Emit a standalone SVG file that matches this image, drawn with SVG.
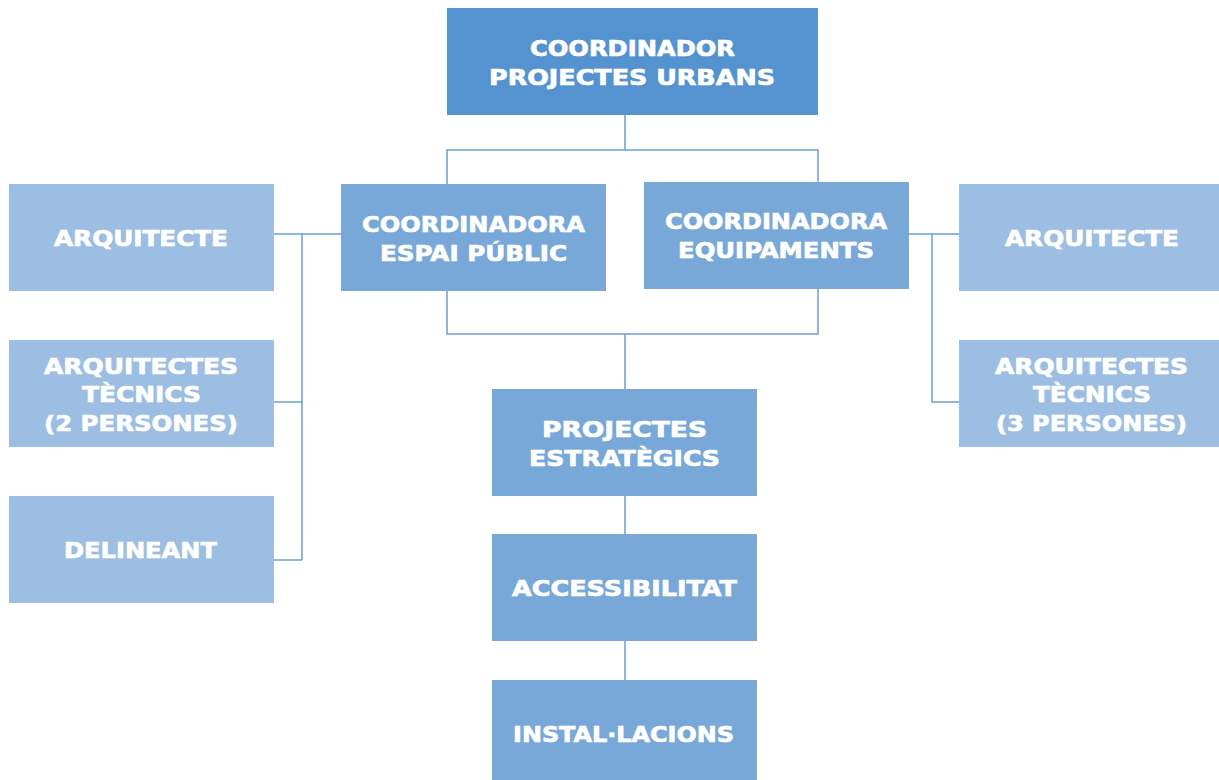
<svg xmlns="http://www.w3.org/2000/svg" width="1219" height="780" viewBox="0 0 1219 780">
<style>
.top{fill:#5593d0}
.mid{fill:#78a8d8}
.lt{fill:#9bbee2}
text{font-family:"DejaVu Sans","Liberation Sans",sans-serif;font-weight:bold;font-size:22px;fill:#ffffff;stroke:#ffffff;stroke-width:0.7;text-anchor:middle}
.c path{stroke:#6a9fd6;stroke-width:1.5;fill:none}
</style>
<rect width="1219" height="780" fill="#ffffff"/>
<g class="c" id="connectors">
<path d="M625 115V150M447 184V150H818V182"/>
<path d="M274 234H341M302 234V560M274 402H302M274 560H302"/>
<path d="M909 234H959M932 234V402H959"/>
<path d="M447 291V334H818V289M625 334V389"/>
<path d="M625 496V534M625 641V680"/>
</g>
<g id="n-top"><rect class="top" x="447" y="8" width="371" height="107"/>
<text x="632.5" y="56" textLength="205" lengthAdjust="spacingAndGlyphs">COORDINADOR</text>
<text x="632" y="85" textLength="286" lengthAdjust="spacingAndGlyphs">PROJECTES URBANS</text></g>
<g id="n-espai"><rect class="mid" x="341" y="184" width="265" height="107"/>
<text x="473.5" y="232" textLength="223" lengthAdjust="spacingAndGlyphs">COORDINADORA</text>
<text x="473.5" y="261" textLength="187" lengthAdjust="spacingAndGlyphs">ESPAI PÚBLIC</text></g>
<g id="n-equip"><rect class="mid" x="644" y="182" width="265" height="107"/>
<text x="776" y="229" textLength="222" lengthAdjust="spacingAndGlyphs">COORDINADORA</text>
<text x="776" y="258" textLength="196" lengthAdjust="spacingAndGlyphs">EQUIPAMENTS</text></g>
<g id="n-arq-l"><rect class="lt" x="9" y="184" width="265" height="107"/>
<text x="141" y="246" textLength="174" lengthAdjust="spacingAndGlyphs">ARQUITECTE</text></g>
<g id="n-tec-l"><rect class="lt" x="9" y="340" width="265" height="107"/>
<text x="141" y="374" textLength="194" lengthAdjust="spacingAndGlyphs">ARQUITECTES</text>
<text x="141.5" y="402" textLength="119" lengthAdjust="spacingAndGlyphs">TÈCNICS</text>
<text x="141" y="431" textLength="194" lengthAdjust="spacingAndGlyphs">(2 PERSONES)</text></g>
<g id="n-del"><rect class="lt" x="9" y="496" width="265" height="107"/>
<text x="140.5" y="558" textLength="153" lengthAdjust="spacingAndGlyphs">DELINEANT</text></g>
<g id="n-arq-r"><rect class="lt" x="959" y="184" width="260" height="107"/>
<text x="1092" y="246" textLength="174" lengthAdjust="spacingAndGlyphs">ARQUITECTE</text></g>
<g id="n-tec-r"><rect class="lt" x="959" y="340" width="260" height="107"/>
<text x="1091.5" y="374" textLength="193" lengthAdjust="spacingAndGlyphs">ARQUITECTES</text>
<text x="1092" y="402" textLength="118" lengthAdjust="spacingAndGlyphs">TÈCNICS</text>
<text x="1091.5" y="431" textLength="191" lengthAdjust="spacingAndGlyphs">(3 PERSONES)</text></g>
<g id="n-proj"><rect class="mid" x="492" y="389" width="265" height="107"/>
<text x="624.5" y="437" textLength="165" lengthAdjust="spacingAndGlyphs">PROJECTES</text>
<text x="624.5" y="466" textLength="191" lengthAdjust="spacingAndGlyphs">ESTRATÈGICS</text></g>
<g id="n-acc"><rect class="mid" x="492" y="534" width="265" height="107"/>
<text x="624.5" y="596" textLength="225" lengthAdjust="spacingAndGlyphs">ACCESSIBILITAT</text></g>
<g id="n-inst"><rect class="mid" x="492" y="680" width="265" height="100"/>
<text x="623.5" y="742" textLength="221" lengthAdjust="spacingAndGlyphs">INSTAL·LACIONS</text></g>
</svg>
